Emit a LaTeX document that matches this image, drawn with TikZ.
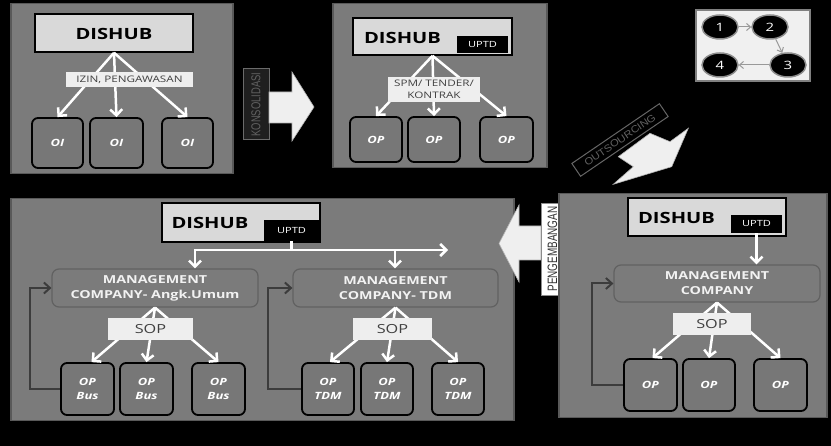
\documentclass[tikz,border=0pt]{standalone}
\usepackage{fontspec}
\setmainfont{Open Sans}[FakeStretch=1.3]
\newfontfamily\narrowfont{Liberation Sans}
\usetikzlibrary{arrows.meta,shapes.geometric,calc}
\definecolor{panelgray}{HTML}{7B7B7B}
\definecolor{boxgray}{HTML}{777777}
\definecolor{dishubfill}{HTML}{D9D9D9}
\definecolor{lblfill}{HTML}{EEEEEE}
\definecolor{loopgray}{HTML}{3C3C3C}
\definecolor{bigarrow}{HTML}{EFEFEF}
\begin{document}
\begin{tikzpicture}[x=1pt,y=-1pt,
  panel/.style={draw=black!65, line width=1.5pt, fill=panelgray, anchor=north west, inner sep=0pt},
  dishub/.style={draw=black, line width=1.5pt, fill=dishubfill, inner sep=0pt},
  dtxt/.style={font=\bfseries\fontsize{15.5}{15.5}\selectfont, text=black, inner sep=0pt},
  uptd/.style={fill=black, text=white, inner sep=0pt, font=\fontsize{8.5}{8.5}\selectfont},
  lbl/.style={fill=lblfill, text=black!75, inner sep=0pt, font=\fontsize{9}{12}\selectfont, align=center},
  sop/.style={fill=lblfill, text=black!75, inner sep=0pt, font=\fontsize{12.5}{12.5}\selectfont},
  opbox/.style={draw=black, line width=1.8pt, fill=boxgray, rounded corners=6pt, inner sep=0pt,
     text=white, align=center},
  mc/.style={draw=black!62, line width=1.2pt, fill=panelgray, rounded corners=7pt, inner sep=0pt,
     text=white!95!black, align=center, font=\bfseries\fontsize{11}{15}\selectfont},
  warr/.style={draw=white, line width=2.5pt, -{Straight Barb[length=6pt,width=12pt]}},
  wline/.style={draw=white, line width=2.5pt},
  larr/.style={draw=loopgray, line width=2pt, -{Straight Barb[length=6pt,width=11pt]}},
  num/.style={ellipse, fill=black, draw=black!45, line width=1.5pt, minimum width=36pt, minimum height=24pt,
     inner sep=0pt, text=white, font=\fontsize{11.5}{11.5}\selectfont},
  garr/.style={draw=black!40, line width=1pt, -{Straight Barb[length=4pt,width=7pt]}},
  bigarr/.style={fill=bigarrow, draw=black!30, line width=0.6pt},
  oifont/.style={font=\bfseries\itshape\fontsize{10}{10}\selectfont},
  opfont/.style={font=\bfseries\itshape\fontsize{10}{14.5}\selectfont}
]
\fill[black] (0,0) rectangle (831,446);
\useasboundingbox (0,0) rectangle (831,446);

% ---------- panel 1 ----------
\node[panel, minimum width=222pt, minimum height=170pt] (p1) at (10,3) {};
\node[dishub, minimum width=158pt, minimum height=38pt] (d1) at (114,33) {};
\node[dtxt] (d1t) at (114,33.5) {DISHUB};
\node[opbox, oifont, minimum width=51pt, minimum height=50pt] (o11) at (57.5,143) {OI};
\node[opbox, oifont, minimum width=53pt, minimum height=50pt] (o12) at (116.5,143) {OI};
\node[opbox, oifont, minimum width=51pt, minimum height=50pt] (o13) at (187.5,143) {OI};
\draw[warr] (d1.south) -- (o11.north);
\draw[warr] (d1.south) -- (o12.north);
\draw[warr] (d1.south) -- (o13.north);
\node[lbl, minimum width=127pt, minimum height=15pt] (l1) at (129.5,80) {IZIN, PENGAWASAN};

% ---------- panel 2 ----------
\node[panel, minimum width=214pt, minimum height=164pt] (p2) at (332,3) {};
\node[dishub, minimum width=159pt, minimum height=37pt] (d2) at (432.5,36.5) {};
\node[dtxt] (d2t) at (402.5,38) {DISHUB};
\node[uptd, minimum width=51pt, minimum height=17pt] (u2) at (482.5,44.5) {UPTD};
\node[opbox, oifont, minimum width=52pt, minimum height=45pt] (o21) at (376,139.5) {OP};
\node[opbox, oifont, minimum width=52pt, minimum height=45pt] (o22) at (434,139.5) {OP};
\node[opbox, oifont, minimum width=53pt, minimum height=45pt] (o23) at (506.5,139.5) {OP};
\draw[warr] (d2.south) -- (o21.north);
\draw[warr] (d2.south) -- (o22.north);
\draw[warr] (d2.south) -- (o23.north);
\node[lbl, minimum width=92pt, minimum height=25pt] (l2) at (434,89.5) {SPM/ TENDER/\\KONTRAK};

% ---------- konsolidasi ----------
\node[draw=black!58, fill=black!88, line width=1pt, minimum width=26pt, minimum height=71pt, inner sep=0pt] (k) at (256,104.5) {};
\node[rotate=90, text=black!62, inner sep=0pt] (kt) at (256,104.5) {\narrowfont\resizebox{64pt}{9pt}{KONSOLIDASI}};
\path[bigarr] (269,92) -- (292,92) -- (292,72) -- (314,107) -- (292,141) -- (292,123) -- (269,123) -- cycle;

% ---------- legend ----------
\node[fill=black!6, draw=black!50, line width=1.5pt, minimum width=114pt, minimum height=71pt, inner sep=0pt] (leg) at (753,45.5) {};
\node[num] (n1) at (720,27) {1};
\node[num] (n2) at (770,27) {2};
\node[num] (n3) at (788,65) {3};
\node[num] (n4) at (720,65) {4};
\draw[garr] (n1) -- (n2);
\draw[garr] (n2) -- (n3);
\draw[garr] (n3) -- (n4);

% ---------- outsourcing ----------
\node[draw=black!60, line width=1pt, minimum width=106pt, minimum height=15.5pt, rotate=34.3, inner sep=0pt] (os) at (620,140) {};
\node[rotate=34.3, text=black!62, inner sep=0pt] (ost) at (620,140) {\narrowfont\resizebox{84pt}{7pt}{OUTSOURCING}};
\path[bigarr] (650,133.3) -- (670,141.7) -- (688.3,128.3) -- (671.7,166.7) -- (613.3,184.3) -- (633.3,166.7) -- (618.3,156.7) -- cycle;

% ---------- bottom-left panel ----------
\node[panel, minimum width=503pt, minimum height=222pt] (p3) at (10,198) {};
\node[dishub, minimum width=158pt, minimum height=39pt] (d3) at (241,222.5) {};
\node[dtxt] (d3t) at (210,223) {DISHUB};
\node[uptd, minimum width=55pt, minimum height=21pt] (u3) at (291.5,230.5) {UPTD};
\node[mc, minimum width=206pt, minimum height=38pt] (mc1) at (155,288) {MANAGEMENT\\COMPANY- Angk.Umum};
\node[mc, minimum width=205pt, minimum height=38pt] (mc2) at (395.5,288) {MANAGEMENT\\COMPANY- TDM};
\coordinate (hl) at (195,250);
\coordinate (hr) at (448,250);
\coordinate (hm) at (395,250);
\draw[wline] (u3.south) -- (u3.south |- hl);
\draw[warr] (u3.south |- hl) -- (hr);
\draw[warr] (u3.south |- hl) -- (hl) -- (hl |- mc1.north);
\draw[warr] (hm) -- (hm |- mc2.north);
\node[opbox, opfont, minimum width=53pt, minimum height=52pt] (b1) at (87.5,389) {OP\\Bus};
\node[opbox, opfont, minimum width=53pt, minimum height=52pt] (b2) at (146.5,389) {OP\\Bus};
\node[opbox, opfont, minimum width=53pt, minimum height=52pt] (b3) at (218.5,389) {OP\\Bus};
\node[opbox, opfont, minimum width=52pt, minimum height=52pt] (t1) at (328,389) {OP\\TDM};
\node[opbox, opfont, minimum width=52pt, minimum height=52pt] (t2) at (387,389) {OP\\TDM};
\node[opbox, opfont, minimum width=52pt, minimum height=52pt] (t3) at (458,389) {OP\\TDM};
\draw[warr] (mc1.south) -- ($(b1.north)+(4,0)$);
\draw[warr] (mc1.south) -- (b2.north);
\draw[warr] (mc1.south) -- (b3.north);
\draw[warr] (mc2.south) -- ($(t1.north)+(2,0)$);
\draw[warr] (mc2.south) -- (t2.north);
\draw[warr] (mc2.south) -- (t3.north);
\node[sop, minimum width=85pt, minimum height=22pt] (s1) at (150.5,329) {SOP};
\node[sop, minimum width=79pt, minimum height=22pt] (s2) at (392.5,329) {SOP};
\draw[larr] (b1.west) -- (30,389) -- (30,288) -- (mc1.west);
\draw[larr] (t1.west) -- (268,389) -- (268,288) -- (mc2.west);

% ---------- pengembangan ----------
\path[bigarr] (541,226) -- (519,226) -- (519,205) -- (499,243.5) -- (519,282) -- (519,260) -- (541,260) -- cycle;
\node[fill=white, draw=black!45, line width=0.8pt, minimum width=23pt, minimum height=92pt, inner sep=0pt] (pg) at (552.5,249) {};
\node[rotate=90, text=black!80, inner sep=0pt] (pgt) at (552.5,249) {\narrowfont\resizebox{85pt}{9.5pt}{PENGEMBANGAN}};

% ---------- bottom-right panel ----------
\node[panel, minimum width=268pt, minimum height=224pt] (p4) at (558,193) {};
\node[dishub, minimum width=158pt, minimum height=38pt] (d4) at (707,217) {};
\node[dtxt] (d4t) at (676.5,217.5) {DISHUB};
\node[uptd, minimum width=51pt, minimum height=18pt] (u4) at (756.5,224) {UPTD};
\node[mc, minimum width=206pt, minimum height=37pt] (mc4) at (717,283.5) {MANAGEMENT\\COMPANY};
\draw[warr] (u4.south) -- (u4.south |- mc4.north);
\node[opbox, oifont, minimum width=53pt, minimum height=52pt] (q1) at (650.5,385) {OP};
\node[opbox, oifont, minimum width=52pt, minimum height=52pt] (q2) at (709,385) {OP};
\node[opbox, oifont, minimum width=53pt, minimum height=52pt] (q3) at (780.5,385) {OP};
\draw[warr] (mc4.south) -- ($(q1.north)+(2,0)$);
\draw[warr] (mc4.south) -- (q2.north);
\draw[warr] (mc4.south) -- (q3.north);
\node[sop, minimum width=78pt, minimum height=22pt] (s4) at (712,324) {SOP};
\draw[larr] (q1.west) -- (592,385) -- (592,283.5) -- (mc4.west);
\end{tikzpicture}
\end{document}
